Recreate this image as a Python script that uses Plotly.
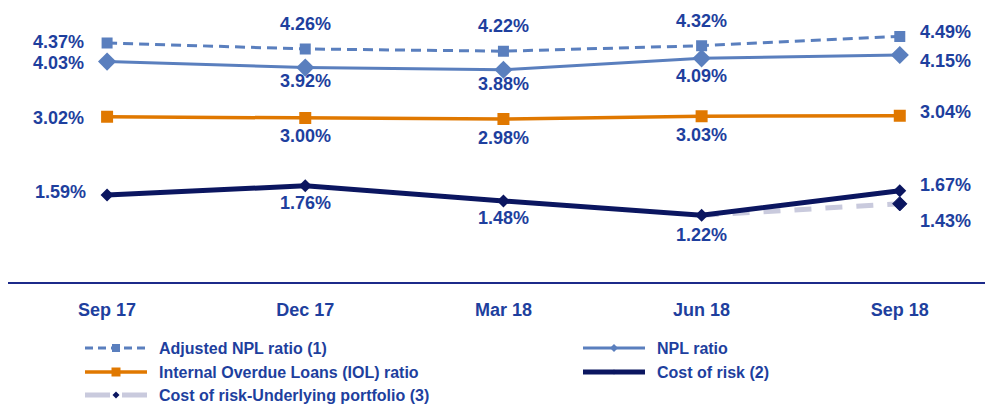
import plotly.graph_objects as go

# ---------------- data ----------------
categories = ["Sep 17", "Dec 17", "Mar 18", "Jun 18", "Sep 18"]
adjusted_npl = [4.37, 4.26, 4.22, 4.32, 4.49]
npl_ratio = [4.03, 3.92, 3.88, 4.09, 4.15]
iol_ratio = [3.02, 3.00, 2.98, 3.03, 3.04]
cost_of_risk = [1.59, 1.76, 1.48, 1.22, 1.67]
cor_underlying = [None, None, None, 1.22, 1.43]

series_names = [
    "Adjusted NPL ratio (1)",
    "NPL ratio",
    "Internal Overdue Loans (IOL) ratio",
    "Cost of risk (2)",
    "Cost of risk-Underlying portfolio (3)",
]

# ---------------- styles ----------------
W, H = 985, 404
FONT = "Liberation Sans, Arial, sans-serif"
LABEL_COLOR = "#1E3F9E"
BLUE = "#5A7FBE"
ORANGE = "#E07800"
NAVY = "#0B1660"
LAVENDER = "#C9CADD"

def below(dy=17):
    return ("center", 0, dy)
def above(dy=-25):
    return ("center", 0, dy)
def right(dy):
    return ("left", 18, dy)

# label placement (anchor, dx, dy in px) per series, per point
placements = {
    0: [("right", -21, -1), above(), above(), above(), right(-4)],
    1: [("right", -21, 1), below(13), below(14), below(18), right(6)],
    2: [("right", -21, 1), below(18), below(19), below(19), right(-4)],
    3: [("right", -19, -3), below(17), below(17), below(20), right(-6)],
    4: [None, None, None, None, right(17)],
}

fig = go.Figure()

fig.add_trace(go.Scatter(
    x=categories, y=adjusted_npl, mode="lines+markers", name=series_names[0],
    line=dict(color=BLUE, width=3, dash="10px,6px"),
    marker=dict(symbol="square", size=11, color=BLUE),
))
fig.add_trace(go.Scatter(
    x=categories, y=npl_ratio, mode="lines+markers", name=series_names[1],
    line=dict(color=BLUE, width=3),
    marker=dict(symbol="diamond", size=14, color=BLUE),
))
fig.add_trace(go.Scatter(
    x=categories, y=iol_ratio, mode="lines+markers", name=series_names[2],
    line=dict(color=ORANGE, width=3.5),
    marker=dict(symbol="square", size=12, color=ORANGE),
))
fig.add_trace(go.Scatter(
    x=categories, y=cor_underlying, mode="lines+markers", name=series_names[4],
    line=dict(color=LAVENDER, width=5, dash="17px,14px"),
    marker=dict(symbol="diamond", size=[0, 0, 0, 0, 11], color=NAVY,
                opacity=1, line=dict(width=1, color=NAVY)),
))
fig.add_trace(go.Scatter(
    x=categories, y=cost_of_risk, mode="lines+markers", name=series_names[3],
    line=dict(color=NAVY, width=5),
    marker=dict(symbol="diamond", size=10, color=NAVY),
))

all_series = [adjusted_npl, npl_ratio, iol_ratio, cost_of_risk, cor_underlying]
for si, vals in enumerate(all_series):
    for pi, v in enumerate(vals):
        pl = placements[si][pi]
        if v is None or pl is None:
            continue
        anchor, dx, dy = pl
        fig.add_annotation(
            x=categories[pi], y=v, xref="x", yref="y",
            text=f"<b>{v:.2f}%</b>", showarrow=False,
            xanchor=anchor, yanchor="middle", xshift=dx, yshift=-dy,
            font=dict(family=FONT, size=18, color=LABEL_COLOR),
        )

# ---------------- custom legend ----------------
def px_x(x):
    return x / W
def px_y(y):
    return 1 - y / H

legend_cols = [85, 583]
legend_rows = [348, 372, 395]
sym_len = 62
legend_layout = [(0, 0), (1, 0), (0, 1), (1, 1), (0, 2)]
legend_styles = [
    dict(color=BLUE, width=3, dash="8px,5px", marker="square", msize=8, mcolor=BLUE),
    dict(color=BLUE, width=3, dash="solid", marker="diamond", msize=8, mcolor=BLUE),
    dict(color=ORANGE, width=3.5, dash="solid", marker="square", msize=9, mcolor=ORANGE),
    dict(color=NAVY, width=5, dash="solid", marker="diamond", msize=5, mcolor=NAVY),
    dict(color=LAVENDER, width=5, dash="25px,12px", marker="diamond", msize=7, mcolor=NAVY),
]
for name, (c, r), st in zip(series_names, legend_layout, legend_styles):
    x0 = legend_cols[c]
    y = legend_rows[r]
    fig.add_shape(type="line", xref="paper", yref="paper",
                  x0=px_x(x0), x1=px_x(x0 + sym_len), y0=px_y(y), y1=px_y(y),
                  line=dict(color=st["color"], width=st["width"], dash=st["dash"]))
    cx = x0 + sym_len / 2
    s = st["msize"] / 2
    if st["marker"] == "square":
        path = (f"M{px_x(cx - s)},{px_y(y - s)} L{px_x(cx + s)},{px_y(y - s)} "
                f"L{px_x(cx + s)},{px_y(y + s)} L{px_x(cx - s)},{px_y(y + s)} Z")
    else:
        path = (f"M{px_x(cx)},{px_y(y - s)} L{px_x(cx + s)},{px_y(y)} "
                f"L{px_x(cx)},{px_y(y + s)} L{px_x(cx - s)},{px_y(y)} Z")
    fig.add_shape(type="path", xref="paper", yref="paper", path=path,
                  fillcolor=st["mcolor"], line=dict(width=0))
    fig.add_annotation(
        x=px_x(x0 + sym_len + 10), y=px_y(y), xref="paper", yref="paper",
        text=f"<b>{name}</b>", showarrow=False, xanchor="left", yanchor="middle",
        font=dict(family=FONT, size=16, color=LABEL_COLOR),
    )

fig.update_layout(
    width=W, height=H,
    margin=dict(l=0, r=0, t=0, b=0),
    paper_bgcolor="white", plot_bgcolor="white",
    showlegend=False,
    xaxis=dict(
        type="category", range=[-0.5, 4.43], domain=[8 / W, 1],
        showline=True, linecolor="#1C2A8A", linewidth=2,
        showgrid=False, zeroline=False, ticks="", ticklabelstandoff=10,
        tickfont=dict(family=FONT, size=18, color=LABEL_COLOR),
        tickvals=categories, ticktext=[f"<b>{c}</b>" for c in categories],
    ),
    yaxis=dict(
        range=[0, 5], domain=[(H - 282) / H, (H - 8.5) / H],
        visible=False, showgrid=False, zeroline=False,
    ),
)

fig.write_html(
    "out.html",
    config={"displayModeBar": False},
    post_script="document.body.style.margin='0';document.body.style.padding='0';",
)
